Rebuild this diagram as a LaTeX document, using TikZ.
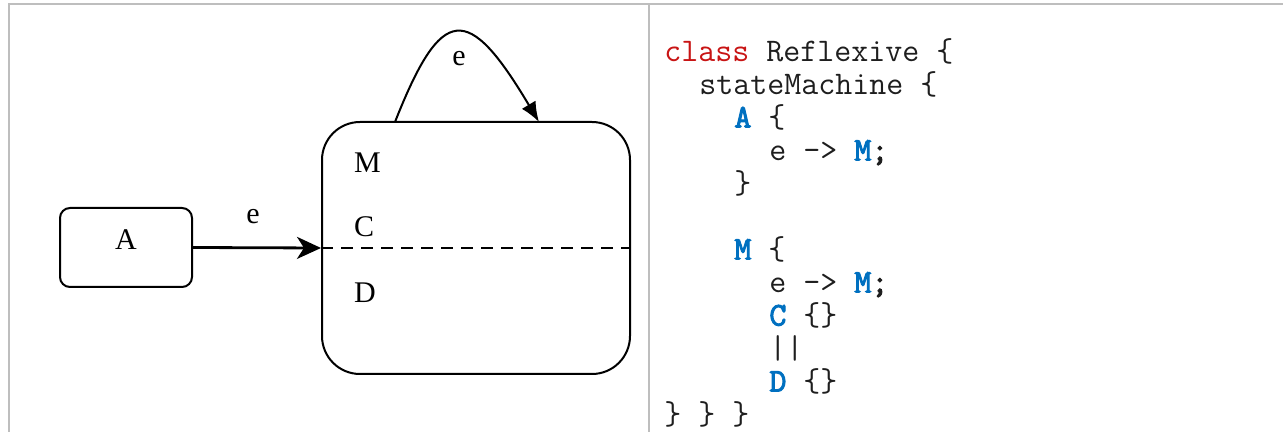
\documentclass[tikz,border=0pt]{standalone}
\usepackage{fontspec}
\setmainfont{Liberation Serif}
\newfontfamily\codebold[FakeBold=3]{Latin Modern Mono}
\usetikzlibrary{arrows.meta}
\definecolor{gridgray}{RGB}{190,190,190}
\definecolor{keyred}{RGB}{200,20,20}
\definecolor{stateblue}{RGB}{0,112,192}
\definecolor{codeink}{RGB}{30,30,30}
\newcommand{\st}[1]{\textcolor{stateblue}{\codebold #1}}
\begin{document}
\begin{tikzpicture}[x=0.5pt,y=-0.5pt, every node/.style={font=\fontsize{15pt}{18pt}\selectfont},
  statebox/.style={draw,line width=1pt,rounded corners=5pt,minimum width=66pt,minimum height=39.5pt},
  bigstate/.style={draw,line width=1pt,rounded corners=19pt,minimum width=154pt,minimum height=126pt},
  codeline/.style={anchor=base west,inner sep=0pt,text=codeink,font=\ttfamily\fontsize{16.5pt}{18pt}\selectfont}]
  \useasboundingbox (0,0) rectangle (1285,432);
  % frame
  \draw[gridgray,line width=1pt] (8.5,432) -- (8.5,4.5) -- (1283,4.5);
  \draw[gridgray,line width=1pt] (648.5,4.5) -- (648.5,432);
  % states
  \node[statebox] (A) at (126,247.5) {};
  \node (Alabel) at (126,240) {A};
  \node[bigstate] (M) at (476,248) {};
  \node[anchor=west] (Mlabel) at (347,163) {M};
  \node[anchor=west] (Clabel) at (347,227) {C};
  \node[anchor=west] (Dlabel) at (347,293) {D};
  \draw[line width=0.9pt,dash pattern=on 6pt off 4pt] (M.west) -- (M.east);
  % transitions
  \draw[line width=1.4pt,-{Stealth[length=12pt,width=11pt,inset=3.5pt]}] (A.east) -- (M.west);
  \node (e1) at (253,217) {e};
  \coordinate (loopout) at (395,122);
  \coordinate (loopin) at (539,122);
  \draw[line width=1pt,-{Latex[length=10pt,width=8pt]}] (loopout) .. controls (442,3) and (468,3) .. (loopin);
  \node (e2) at (459,59) {e};
  % code
  \node[codeline] (c1) at (664,61.5) {\textcolor{keyred}{class} Reflexive \{};
  \node[codeline] (c2) at (699,94.5) {stateMachine \{};
  \node[codeline] (c3) at (734,127.5) {\st{A} \{};
  \node[codeline] (c4) at (769,160.5) {e -> \st{M}{\codebold;}};
  \node[codeline] (c5) at (734,193.5) {\}};
  \node[codeline] (c7) at (734,259.5) {\st{M} \{};
  \node[codeline] (c8) at (769,292.5) {e -> \st{M}{\codebold;}};
  \node[codeline] (c9) at (769,325.5) {\st{C} \{\}};
  \node[codeline] (c10) at (769,358.5) {||};
  \node[codeline] (c11) at (769,391.5) {\st{D} \{\}};
  \node[codeline] (c12) at (664,424.5) {\} \} \}};
\end{tikzpicture}
\end{document}
